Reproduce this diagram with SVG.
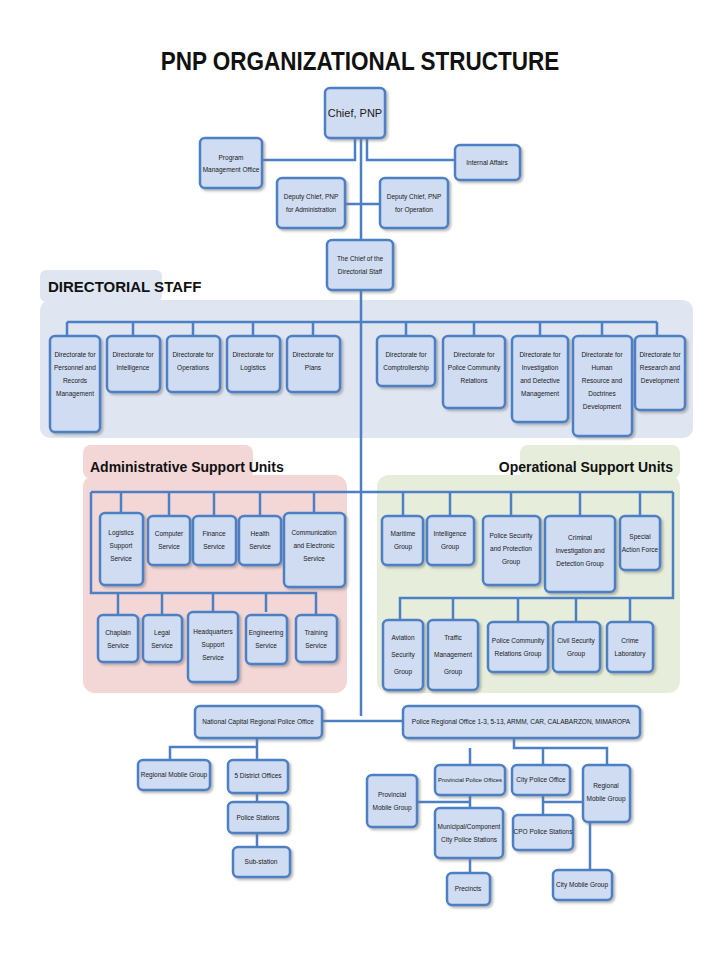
<svg xmlns="http://www.w3.org/2000/svg" width="720" height="960" viewBox="0 0 720 960">
<defs>
<filter id="sh" x="-20%" y="-20%" width="150%" height="150%"><feDropShadow dx="2" dy="2" stdDeviation="1.2" flood-color="#777" flood-opacity="0.5"/></filter>
<style>
.b{fill:#cfdcf2;stroke:#4d7fc4;stroke-width:2.5;filter:url(#sh)}
.t{font-family:"Liberation Sans",Arial,sans-serif;font-size:6.5px;fill:#1a1a1a;text-anchor:middle}
.c{fill:none;stroke:#4d7fc4;stroke-width:2.5}
.h{font-family:"Liberation Sans",Arial,sans-serif;font-weight:bold;fill:#111}
</style>
</defs>
<rect width="720" height="960" fill="#fff"/>
<text x="360" y="70" class="h" font-size="25" text-anchor="middle" transform="translate(360 0) scale(0.9 1) translate(-360 0)">PNP ORGANIZATIONAL STRUCTURE</text>
<rect x="40" y="300" width="653" height="138" rx="10" fill="#dfe6f1"/>
<rect x="40" y="270" width="122" height="32" rx="6" fill="#dfe6f1"/>
<text x="48" y="292" class="h" font-size="15">DIRECTORIAL STAFF</text>
<rect x="83" y="475" width="264" height="218" rx="12" fill="#f3d6d6"/>
<rect x="83" y="445" width="170" height="34" rx="8" fill="#f3d6d6"/>
<text x="90" y="472" class="h" font-size="14">Administrative Support Units</text>
<rect x="377" y="475" width="303" height="218" rx="12" fill="#e6eedb"/>
<rect x="520" y="445" width="160" height="34" rx="8" fill="#e6eedb"/>
<text x="673" y="472" class="h" font-size="14" text-anchor="end">Operational Support Units</text>
<g id="connectors">
<path class="c" d="M361 138V716M355 138V160H262M367 138V160H455M345 204H380M67 322H657M67 322V336M133 322V336M193 322V336M253 322V336M313 322V336M406 322V336M474 322V336M540 322V336M602 322V336M657 322V336M91 492H673M91 492V593H287M121 492V513M169 492V516M214 492V516M260 492V516M314 492V513M118 593V615M162 593V615M213 593V612M266 593V612M287 593H316V615M403 492V516M450 492V516M511 492V516M580 492V516M640 492V516M673 492V598H400V620M453 598V620M518 598V622M576 598V622M630 598V622M322 721H403M257 738V747H170V760M257 747V760M257 793V802M257 833V847M514 738V748H607V765M470 748V765M543 748V765M470 793V808M417 802H470M470 858V873M543 793V815M543 802H590V870"/>
</g>
<g id="chief"><rect class="b" x="325" y="88" width="60" height="50" rx="5"/><text class="t" x="355" y="117" style="font-size:11px">Chief, PNP</text></g>
<g id="pmo"><rect class="b" x="200" y="138" width="62" height="50" rx="5"/><text class="t" x="231" y="160">Program</text><text class="t" x="231" y="172">Management Office</text></g>
<g id="ia"><rect class="b" x="455" y="145" width="65" height="35" rx="5"/><text class="t" x="487" y="165">Internal Affairs</text></g>
<g id="dca"><rect class="b" x="277" y="178" width="68" height="50" rx="5"/><text class="t" x="311" y="199">Deputy Chief, PNP</text><text class="t" x="311" y="212">for Administration</text></g>
<g id="dco"><rect class="b" x="380" y="178" width="68" height="50" rx="5"/><text class="t" x="414" y="199">Deputy Chief, PNP</text><text class="t" x="414" y="212">for Operation</text></g>
<g id="tcds"><rect class="b" x="327" y="240" width="66" height="50" rx="5"/><text class="t" x="360" y="261">The Chief of the</text><text class="t" x="360" y="274">Directorial Staff</text></g>
<g id="d1"><rect class="b" x="50" y="336" width="50" height="96" rx="5"/><text class="t" x="75" y="357">Directorate for</text><text class="t" x="75" y="370">Personnel and</text><text class="t" x="75" y="383">Records</text><text class="t" x="75" y="396">Management</text></g>
<g id="d2"><rect class="b" x="107" y="336" width="53" height="56" rx="5"/><text class="t" x="133" y="357">Directorate for</text><text class="t" x="133" y="370">Intelligence</text></g>
<g id="d3"><rect class="b" x="167" y="336" width="53" height="56" rx="5"/><text class="t" x="193" y="357">Directorate for</text><text class="t" x="193" y="370">Operations</text></g>
<g id="d4"><rect class="b" x="227" y="336" width="53" height="56" rx="5"/><text class="t" x="253" y="357">Directorate for</text><text class="t" x="253" y="370">Logistics</text></g>
<g id="d5"><rect class="b" x="287" y="336" width="53" height="56" rx="5"/><text class="t" x="313" y="357">Directorate for</text><text class="t" x="313" y="370">Plans</text></g>
<g id="d6"><rect class="b" x="377" y="336" width="58" height="50" rx="5"/><text class="t" x="406" y="357">Directorate for</text><text class="t" x="406" y="370">Comptrollership</text></g>
<g id="d7"><rect class="b" x="443" y="336" width="62" height="72" rx="5"/><text class="t" x="474" y="357">Directorate for</text><text class="t" x="474" y="370">Police Community</text><text class="t" x="474" y="383">Relations</text></g>
<g id="d8"><rect class="b" x="512" y="336" width="56" height="86" rx="5"/><text class="t" x="540" y="357">Directorate for</text><text class="t" x="540" y="370">Investigation</text><text class="t" x="540" y="383">and Detective</text><text class="t" x="540" y="396">Management</text></g>
<g id="d9"><rect class="b" x="573" y="336" width="59" height="100" rx="5"/><text class="t" x="602" y="357">Directorate for</text><text class="t" x="602" y="370">Human</text><text class="t" x="602" y="383">Resource and</text><text class="t" x="602" y="396">Doctrines</text><text class="t" x="602" y="409">Development</text></g>
<g id="d10"><rect class="b" x="635" y="336" width="50" height="74" rx="5"/><text class="t" x="660" y="357">Directorate for</text><text class="t" x="660" y="370">Research and</text><text class="t" x="660" y="383">Development</text></g>
<g id="a1"><rect class="b" x="100" y="513" width="43" height="72" rx="5"/><text class="t" x="121" y="535">Logistics</text><text class="t" x="121" y="548">Support</text><text class="t" x="121" y="561">Service</text></g>
<g id="a2"><rect class="b" x="148" y="516" width="42" height="49" rx="5"/><text class="t" x="169" y="536">Computer</text><text class="t" x="169" y="549">Service</text></g>
<g id="a3"><rect class="b" x="193" y="516" width="43" height="49" rx="5"/><text class="t" x="214" y="536">Finance</text><text class="t" x="214" y="549">Service</text></g>
<g id="a4"><rect class="b" x="239" y="516" width="42" height="49" rx="5"/><text class="t" x="260" y="536">Health</text><text class="t" x="260" y="549">Service</text></g>
<g id="a5"><rect class="b" x="284" y="513" width="61" height="74" rx="5"/><text class="t" x="314" y="535">Communication</text><text class="t" x="314" y="548">and Electronic</text><text class="t" x="314" y="561">Service</text></g>
<g id="a6"><rect class="b" x="98" y="615" width="40" height="47" rx="5"/><text class="t" x="118" y="635">Chaplain</text><text class="t" x="118" y="648">Service</text></g>
<g id="a7"><rect class="b" x="143" y="615" width="39" height="47" rx="5"/><text class="t" x="162" y="635">Legal</text><text class="t" x="162" y="648">Service</text></g>
<g id="a8"><rect class="b" x="188" y="612" width="50" height="70" rx="5"/><text class="t" x="213" y="634">Headquarters</text><text class="t" x="213" y="647">Support</text><text class="t" x="213" y="660">Service</text></g>
<g id="a9"><rect class="b" x="246" y="615" width="41" height="49" rx="5"/><text class="t" x="266" y="635">Engineering</text><text class="t" x="266" y="648">Service</text></g>
<g id="a10"><rect class="b" x="296" y="615" width="41" height="47" rx="5"/><text class="t" x="316" y="635">Training</text><text class="t" x="316" y="648">Service</text></g>
<g id="o1"><rect class="b" x="382" y="516" width="41" height="49" rx="5"/><text class="t" x="403" y="536">Maritime</text><text class="t" x="403" y="549">Group</text></g>
<g id="o2"><rect class="b" x="427" y="516" width="47" height="49" rx="5"/><text class="t" x="450" y="536">Intelligence</text><text class="t" x="450" y="549">Group</text></g>
<g id="o3"><rect class="b" x="483" y="516" width="57" height="69" rx="5"/><text class="t" x="511" y="538">Police Security</text><text class="t" x="511" y="551">and Protection</text><text class="t" x="511" y="564">Group</text></g>
<g id="o4"><rect class="b" x="545" y="516" width="70" height="76" rx="5"/><text class="t" x="580" y="540">Criminal</text><text class="t" x="580" y="553">Investigation and</text><text class="t" x="580" y="566">Detection Group</text></g>
<g id="o5"><rect class="b" x="620" y="516" width="40" height="54" rx="5"/><text class="t" x="640" y="539">Special</text><text class="t" x="640" y="552">Action Force</text></g>
<g id="o6"><rect class="b" x="383" y="620" width="40" height="70" rx="5"/><text class="t" x="403" y="640">Aviation</text><text class="t" x="403" y="657">Security</text><text class="t" x="403" y="674">Group</text></g>
<g id="o7"><rect class="b" x="428" y="620" width="50" height="70" rx="5"/><text class="t" x="453" y="640">Traffic</text><text class="t" x="453" y="657">Management</text><text class="t" x="453" y="674">Group</text></g>
<g id="o8"><rect class="b" x="488" y="622" width="60" height="50" rx="5"/><text class="t" x="518" y="643">Police Community</text><text class="t" x="518" y="656">Relations Group</text></g>
<g id="o9"><rect class="b" x="553" y="622" width="47" height="50" rx="5"/><text class="t" x="576" y="643">Civil Security</text><text class="t" x="576" y="656">Group</text></g>
<g id="o10"><rect class="b" x="607" y="622" width="46" height="50" rx="5"/><text class="t" x="630" y="643">Crime</text><text class="t" x="630" y="656">Laboratory</text></g>
<g id="ncrpo"><rect class="b" x="195" y="706" width="127" height="32" rx="5"/><text class="t" x="258" y="724">National Capital Regional Police Office</text></g>
<g id="pro"><rect class="b" x="403" y="706" width="237" height="32" rx="5"/><text class="t" x="521" y="724">Police Regional Office 1-3, 5-13, ARMM, CAR, CALABARZON, MIMAROPA</text></g>
<g id="rmg1"><rect class="b" x="138" y="760" width="72" height="30" rx="5"/><text class="t" x="174" y="777">Regional Mobile Group</text></g>
<g id="do"><rect class="b" x="228" y="760" width="60" height="33" rx="5"/><text class="t" x="258" y="778">5 District Offices</text></g>
<g id="ps"><rect class="b" x="228" y="802" width="60" height="31" rx="5"/><text class="t" x="258" y="820">Police Stations</text></g>
<g id="ss"><rect class="b" x="233" y="847" width="57" height="30" rx="5"/><text class="t" x="261" y="864">Sub-station</text></g>
<g id="ppo"><rect class="b" x="435" y="765" width="70" height="30" rx="5"/><text class="t" x="470" y="782" style="font-size:6px">Provincial Police Offices</text></g>
<g id="cpo"><rect class="b" x="512" y="765" width="58" height="30" rx="5"/><text class="t" x="541" y="782">City Police Office</text></g>
<g id="rmg2"><rect class="b" x="583" y="765" width="47" height="57" rx="5"/><text class="t" x="606" y="788">Regional</text><text class="t" x="606" y="801">Mobile Group</text></g>
<g id="pmg"><rect class="b" x="367" y="775" width="50" height="52" rx="5"/><text class="t" x="392" y="797">Provincial</text><text class="t" x="392" y="810">Mobile Group</text></g>
<g id="mcps"><rect class="b" x="435" y="808" width="68" height="50" rx="5"/><text class="t" x="469" y="829">Municipal/Component</text><text class="t" x="469" y="842">City Police Stations</text></g>
<g id="prec"><rect class="b" x="447" y="873" width="43" height="32" rx="5"/><text class="t" x="468" y="891">Precincts</text></g>
<g id="cpos"><rect class="b" x="513" y="815" width="60" height="35" rx="5"/><text class="t" x="543" y="834">CPO Police Stations</text></g>
<g id="cmg"><rect class="b" x="553" y="870" width="59" height="30" rx="5"/><text class="t" x="582" y="887">City Mobile Group</text></g>
</svg>
